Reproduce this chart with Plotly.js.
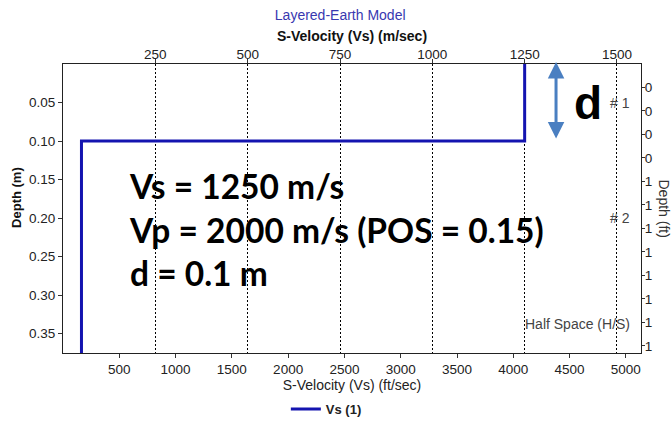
<!DOCTYPE html>
<html>
<head>
<meta charset="utf-8">
<script src="https://cdn.plot.ly/plotly-3.0.1.min.js"></script>
<style>
  html, body { margin: 0; padding: 0; background: #fff; }
  #chart { width: 671px; height: 423px; }
</style>
</head>
<body>
<div id="chart"></div>
<script>
// ---- data ----
const profileDepthM = [0, 0.1, 0.1, 0.375];      // depth of profile vertices (m)
const profileVsMs   = [1250, 1250, 50, 50];       // S-velocity (m/s)
const layerBoundariesM = [0.1, 0.3];              // layer interfaces (m)
const vsRangeMs = [0, 1565];
const depthRangeM = [0.375, 0];
const topTickVals = [250, 500, 750, 1000, 1250, 1500];
const bottomTickVals = [500, 1000, 1500, 2000, 2500, 3000, 3500, 4000, 4500, 5000];
const leftTickVals = [0.05, 0.10, 0.15, 0.20, 0.25, 0.30, 0.35];
const leftTickText = ['0.05', '0.10', '0.15', '0.20', '0.25', '0.30', '0.35'];
const rightTickVals = [0.1, 0.2, 0.3, 0.4, 0.5, 0.6, 0.7, 0.8, 0.9, 1.0, 1.1, 1.2];
const rightTickText = ['0', '0', '0', '0', '1', '1', '1', '1', '1', '1', '1', '1'];
const layerLabels = ['# 1', '# 2', 'Half Space (H/S)'];
const layerLabelDepthsM = [0.05, 0.2, 0.337];
const M_TO_FT = 3.28084;

const FONT = 'Liberation Sans, Arial, sans-serif';
const lineColor = '#1414b0';

const traces = [
  {
    type: 'scatter', mode: 'lines', name: 'Vs (1)',
    x: profileVsMs, y: profileDepthM, xaxis: 'x2', yaxis: 'y',
    line: { color: lineColor, width: 3 }, hoverinfo: 'skip'
  },
  {
    type: 'scatter', mode: 'lines', showlegend: false, hoverinfo: 'skip',
    x: profileVsMs.map(v => v * M_TO_FT), y: profileDepthM.map(d => d * M_TO_FT),
    xaxis: 'x', yaxis: 'y2', line: { color: 'rgba(0,0,0,0)', width: 0 }
  }
];

const shapes = layerBoundariesM.map(d => ({
  type: 'line', xref: 'paper', x0: 0, x1: 1, yref: 'y', y0: d, y1: d,
  line: { color: '#000', width: 1, dash: '3px,2px' }, layer: 'below'
}));

const annotations = [
  {
    xref: 'paper', yref: 'paper', x: 0.1107, y: 0.429, xanchor: 'left', yanchor: 'middle',
    align: 'left', showarrow: false,
    text: '<b>Vs = 1250 m/s<br>Vp = 2000 m/s (POS = 0.15)<br>d = 0.1 m</b>',
    font: { family: 'Lato, sans-serif', size: 33.5, color: '#000' }
  },
  {
    xref: 'paper', yref: 'paper', x: 0.908, y: 0.865, xanchor: 'center', yanchor: 'middle',
    showarrow: false, text: '<b>d</b>',
    font: { family: FONT, size: 46, color: '#000' }
  },
  {
    xref: 'paper', yref: 'paper', x: 0.853, y: 1.007, text: '', showarrow: true,
    ax: 0, ay: 78, arrowside: 'end+start', arrowhead: 2, startarrowhead: 2,
    arrowsize: 1.1, startarrowsize: 1.1, arrowwidth: 3, arrowcolor: '#4a7fc1'
  },
  {
    xref: 'paper', yref: 'paper', x: 1.0415, y: 0.5, textangle: 90, showarrow: false,
    text: 'Depth (ft)', xanchor: 'center', yanchor: 'middle',
    font: { family: FONT, size: 14, color: '#333' }
  },
  {
    xref: 'paper', yref: 'paper', x: -0.0796, y: 0.54, textangle: -90, showarrow: false,
    text: '<b>Depth (m)</b>', xanchor: 'center', yanchor: 'middle',
    font: { family: 'Liberation Sans Narrow, Arial Narrow, Liberation Sans, sans-serif', size: 13, color: '#111' }
  }
].concat(layerLabels.map((t, i) => ({
  xref: 'paper', yref: 'y', x: 0.985, y: layerLabelDepthsM[i], xanchor: 'right', yanchor: 'middle',
  showarrow: false, text: t, font: { family: FONT, size: 14, color: '#444' }
})));

const tickCommon = {
  ticks: 'outside', ticklen: 4, tickcolor: '#333', tickwidth: 1,
  showline: true, linecolor: '#222', linewidth: 1, zeroline: false,
  tickfont: { family: FONT, size: 13.5, color: '#222' }
};

const layout = {
  width: 671, height: 423,
  margin: { l: 63, r: 30, t: 64, b: 70 },
  paper_bgcolor: '#fff', plot_bgcolor: '#fff',
  font: { family: FONT, color: '#222' },
  title: {
    text: 'Layered-Earth Model', xref: 'container', yref: 'container',
    x: 0.507, y: 0.9645, xanchor: 'center', yanchor: 'middle',
    font: { family: FONT, size: 14, color: '#3838b0' }
  },
  showlegend: true,
  legend: {
    orientation: 'h', xref: 'container', yref: 'container', x: 0.426, y: 0.033,
    xanchor: 'left', yanchor: 'middle',
    font: { family: FONT, size: 13, color: '#222', weight: 'bold' }
  },
  xaxis: Object.assign({}, tickCommon, {
    range: vsRangeMs.map(v => v * M_TO_FT), tickvals: bottomTickVals,
    showgrid: false, side: 'bottom',
    title: { text: 'S-Velocity (Vs) (ft/sec)', standoff: 2, font: { family: FONT, size: 14, color: '#222' } }
  }),
  xaxis2: Object.assign({}, tickCommon, {
    range: vsRangeMs, tickvals: topTickVals, overlaying: 'x', side: 'top', anchor: 'y',
    ticklabelstandoff: -5,
    showgrid: true, gridcolor: '#000', gridwidth: 1, griddash: '2px,2px',
    title: { text: '<b>S-Velocity (Vs) (m/sec)</b>', standoff: 1, font: { family: FONT, size: 14, color: '#111' } }
  }),
  yaxis: Object.assign({}, tickCommon, {
    range: depthRangeM, tickvals: leftTickVals, ticktext: leftTickText, showgrid: false
  }),
  yaxis2: Object.assign({}, tickCommon, {
    range: depthRangeM.map(d => d * M_TO_FT), tickvals: rightTickVals, ticktext: rightTickText,
    overlaying: 'y', side: 'right', anchor: 'x', showgrid: false, ticklen: 3, ticklabelstandoff: -3
  }),
  shapes: shapes,
  annotations: annotations
};

Plotly.newPlot('chart', traces, layout, { displayModeBar: false, staticPlot: true });
</script>
</body>
</html>
